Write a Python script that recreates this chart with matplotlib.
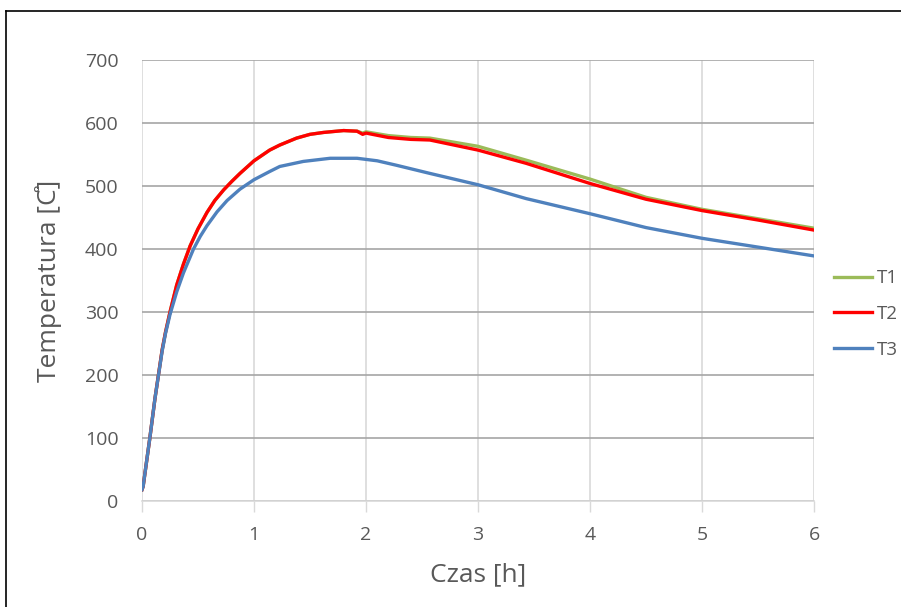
import matplotlib
matplotlib.use("Agg")
import matplotlib.pyplot as plt
from matplotlib.lines import Line2D

# values
time_12 = [0, 0.01, 0.07, 0.116, 0.18, 0.21, 0.25, 0.31, 0.37, 0.43, 0.5, 0.58, 0.65, 0.73,
           0.8, 0.875, 1.0, 1.14, 1.23, 1.38, 1.5, 1.62, 1.8, 1.92, 1.97, 2.0, 2.2, 2.4,
           2.57, 3.0, 3.43, 4.0, 4.5, 5.0, 5.5, 6.0]
t1 = [18, 23, 100, 163, 240, 268, 300, 343, 376, 405, 432, 458, 477, 494,
      507, 520, 540, 557, 565, 576, 582, 585, 588, 587, 584, 586, 580, 577,
      576, 563, 541, 511, 482, 463, 448, 433]
t2 = [18, 23, 100, 163, 240, 268, 300, 343, 376, 405, 432, 458, 477, 494,
      507, 520, 540, 557, 565, 576, 582, 585, 588, 587, 582, 584, 577, 574,
      573, 557, 536, 504, 479, 461, 446, 430]

time_3 = [0, 0.01, 0.07, 0.116, 0.18, 0.21, 0.25, 0.31, 0.37, 0.46, 0.52, 0.58, 0.67, 0.76,
          0.875, 1.0, 1.14, 1.23, 1.44, 1.68, 1.92, 2.1, 2.27, 2.57, 3.0, 3.43, 4.0, 4.5,
          5.0, 5.5, 6.0]
t3 = [18, 23, 100, 163, 238, 266, 296, 332, 362, 400, 420, 437, 459, 477,
      495, 510, 523, 531, 539, 544, 544, 540, 533, 520, 502, 480, 456, 434,
      417, 403, 389]

x_ticks = [0, 1, 2, 3, 4, 5, 6]
y_ticks = [0, 100, 200, 300, 400, 500, 600, 700]

plt.rcParams['font.family'] = ['Open Sans', 'DejaVu Sans']
text_col = '#595959'

fig = plt.figure(figsize=(9.01, 6.07), dpi=100)
ax = fig.add_axes([142 / 901, 1 - 501 / 607, 672 / 901, 441 / 607])

ax.plot(time_12, t1, color='#9BBB59', lw=2.4, label='T1')
ax.plot(time_12, t2, color='#FF0000', lw=2.4, label='T2')
ax.plot(time_3, t3, color='#4F81BD', lw=2.4, label='T3')

ax.set_xlim(0, 6)
ax.set_ylim(0, 700)
ax.set_xticks(x_ticks)
ax.set_yticks(y_ticks)
ax.tick_params(axis='y', length=0, labelsize=14, colors=text_col, pad=17)
ax.tick_params(axis='x', length=8, width=1, color='#D9D9D9', labelsize=14,
               colors=text_col, pad=10)

ax.yaxis.grid(True, color='#A6A6A6', lw=1.2)
ax.xaxis.grid(True, color='#D9D9D9', lw=1.2)
ax.set_axisbelow(True)
for s in ['top', 'right', 'left']:
    ax.spines[s].set_visible(False)
ax.spines['bottom'].set_color('#D9D9D9')
ax.spines['bottom'].set_linewidth(1.2)

ax.set_xlabel('Czas [h]', fontsize=19, color=text_col, labelpad=13)
ax.set_ylabel('Temperatura [C\u030a]', fontsize=19, color=text_col, labelpad=16)

leg = ax.legend(loc='center left', bbox_to_anchor=(1.005, 0.424), frameon=False,
                fontsize=13.5, handlelength=2.0, handletextpad=0.25, labelspacing=0.95)
for t in leg.get_texts():
    t.set_color(text_col)

# outer frame of the chart area
fig.add_artist(Line2D([6 / 901, 1], [1 - 11 / 607, 1 - 11 / 607], color='black', lw=1.2))
fig.add_artist(Line2D([6 / 901, 6 / 901], [0, 1 - 11 / 607], color='black', lw=1.2))

fig.savefig('out.png', dpi=100)
